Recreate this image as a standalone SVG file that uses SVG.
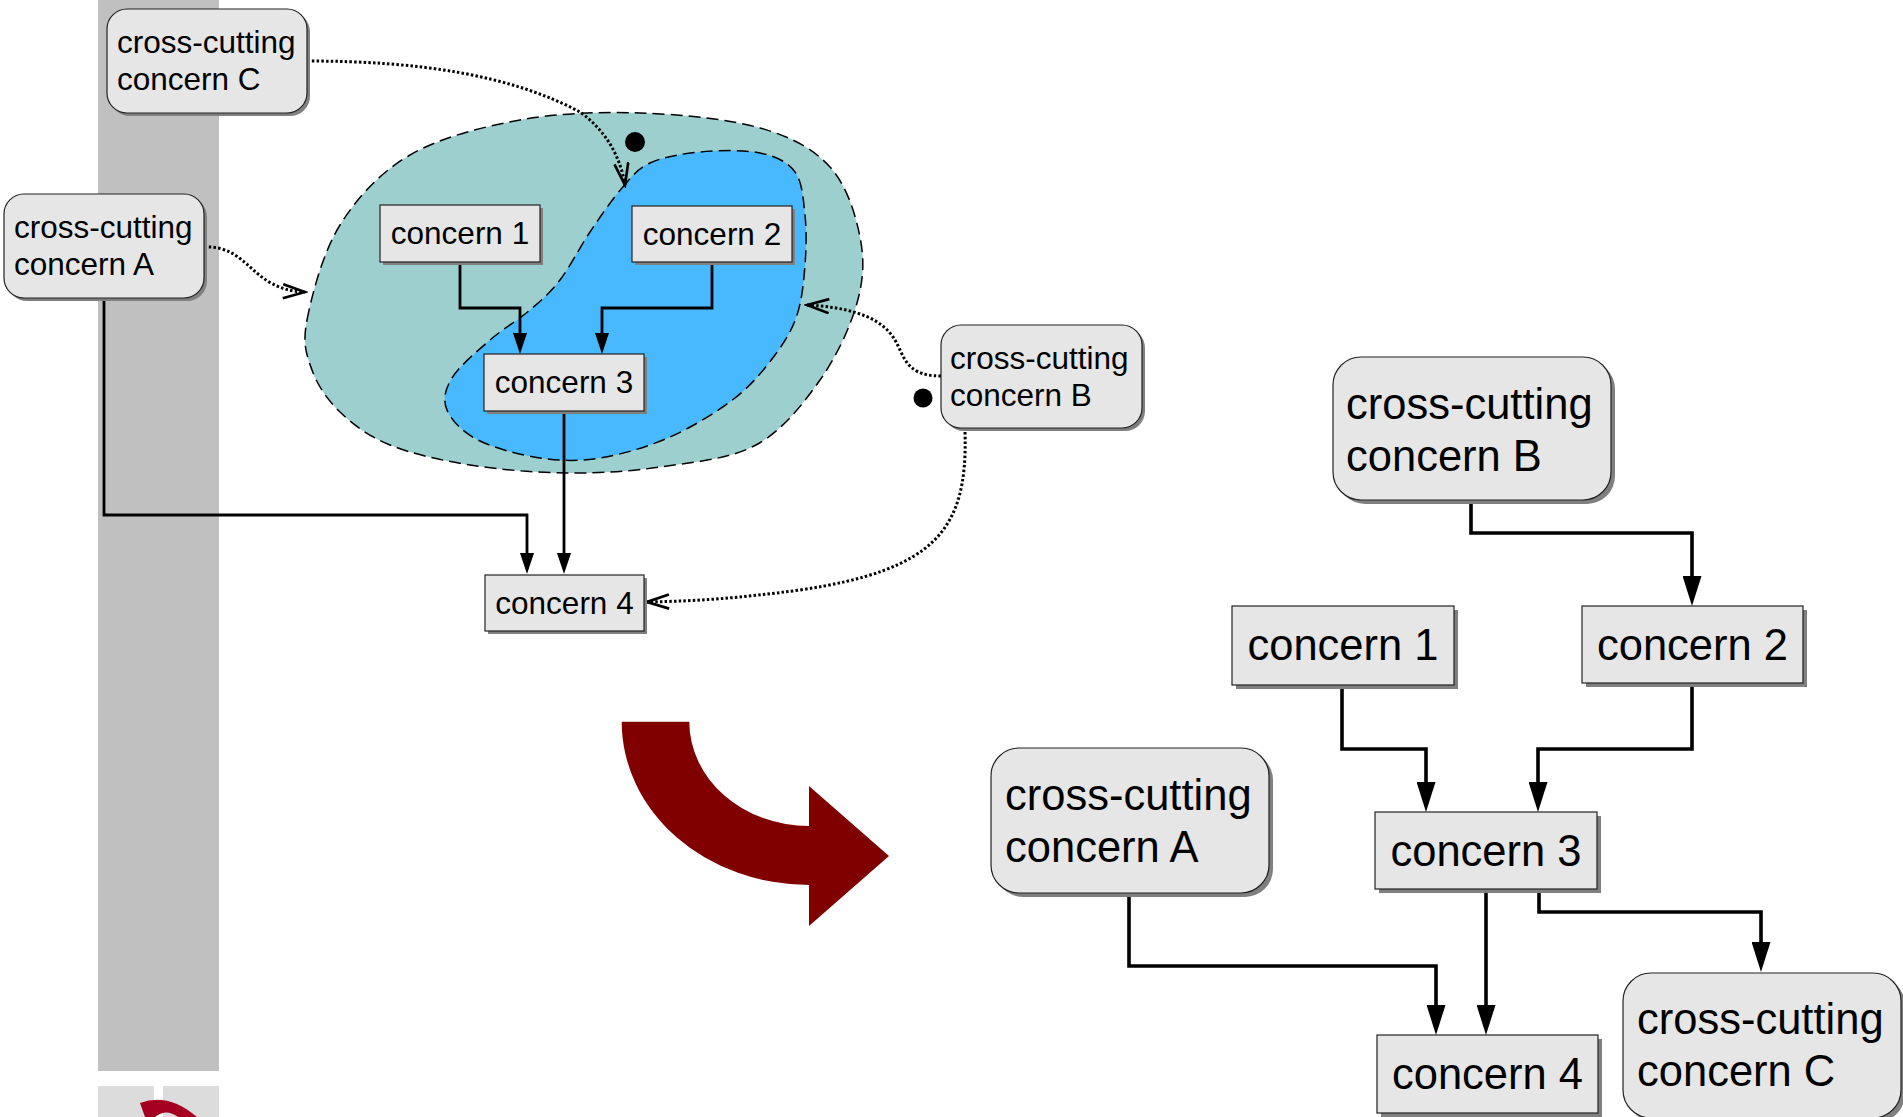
<svg xmlns="http://www.w3.org/2000/svg" width="1903" height="1117" viewBox="0 0 1903 1117">
<style>
.box{fill:#e6e6e6;stroke:#222;stroke-width:1.2}
.shadow{fill:#808080}
.t1{font-family:"Liberation Sans",Arial,sans-serif;font-size:31.5px;fill:#000}
.t2{font-family:"Liberation Sans",Arial,sans-serif;font-size:43.5px;fill:#000}
.mid{text-anchor:middle}
.ln1{fill:none;stroke:#000;stroke-width:2.8}
.ln2{fill:none;stroke:#000;stroke-width:3.6}
.dot{fill:none;stroke:#000;stroke-width:3;stroke-dasharray:2.5 2.2}
.blob{stroke:#000;stroke-width:1.5;stroke-dasharray:12 6}
</style>
<defs>
<marker id="arrS" markerWidth="21" markerHeight="14" refX="16" refY="7" orient="auto" markerUnits="userSpaceOnUse"><path d="M0,0 L21,7 L0,14 z" fill="#000"/></marker>
<marker id="arrL" markerWidth="30" markerHeight="19" refX="24" refY="9.5" orient="auto" markerUnits="userSpaceOnUse"><path d="M0,0 L30,9.5 L0,19 z" fill="#000"/></marker>
<marker id="open" markerWidth="26" markerHeight="18" refX="23" refY="8" orient="auto" markerUnits="userSpaceOnUse"><path d="M1,1 L23,8 L1,15" fill="none" stroke="#000" stroke-width="2.7" stroke-dasharray="none"/></marker>
</defs>

<g id="sidebar">
<rect x="98" y="0" width="121" height="1071" fill="#c0c0c0"/>
<rect x="98" y="1086" width="56" height="31" fill="#dcdcdc"/>
<rect x="163" y="1086" width="56" height="31" fill="#dcdcdc"/>
<path d="M140,1103 Q168,1092 197,1117 L178,1117 Q166,1108 155,1117 L145,1117 Z" fill="#a50021"/>
</g>

<g id="outer-blob">
<path class="blob" fill="#9ecfcf" d="M307,320 C311.7,295.8 322.8,252.5 340,225 C357.2,197.5 380,172.5 410,155 C440,137.5 481.7,127 520,120 C558.3,113 600,111.7 640,113 C680,114.3 728.3,119 760,128 C791.7,137 813.3,148.8 830,167 C846.7,185.2 855.5,214.3 860,237 C864.5,259.7 863.7,279.2 857,303 C850.3,326.8 836.8,356.3 820,380 C803.2,403.7 782.7,430.5 756,445 C729.3,459.5 691.5,462.3 660,467 C628.5,471.7 598.7,473.3 567,473 C535.3,472.7 499.5,469.7 470,465 C440.5,460.3 411.7,453.8 390,445 C368.3,436.2 353,424.5 340,412 C327,399.5 317.5,385.3 312,370 C306.5,354.7 302.3,344.2 307,320 Z"/>
</g>
<g id="inner-blob">
<path class="blob" fill="#48b8ff" d="M622,188 C632,176.5 637,169 650,163 C663,157 681.7,153.7 700,152 C718.3,150.3 744.2,149.7 760,153 C775.8,156.3 787.5,161.7 795,172 C802.5,182.3 803.3,199.5 805,215 C806.7,230.5 806.3,248.3 805,265 C803.7,281.7 802,300 797,315 C792,330 785.3,341.2 775,355 C764.7,368.8 752.5,384.3 735,398 C717.5,411.7 692.5,427 670,437 C647.5,447 621.7,454.5 600,458 C578.3,461.5 560.3,461 540,458 C519.7,455 493.5,448 478,440 C462.5,432 451.3,420.3 447,410 C442.7,399.7 444.8,389.7 452,378 C459.2,366.3 477,351.3 490,340 C503,328.7 518.3,320 530,310 C541.7,300 550,293 560,280 C570,267 579.7,247.3 590,232 C600.3,216.7 612,199.5 622,188 Z"/>
</g>

<g id="big-arrow">
<path d="M621.7,721.7 H689.3 A119.7,104.3 0 0 0 809,826 V786 L889,856 L809,926 V885 A187.3,163.3 0 0 1 621.7,721.7 Z" fill="#800000"/>
</g>

<g id="connectors">
<path class="ln1" d="M460,262 V308 H520 V349" marker-end="url(#arrS)"/>
<path class="ln1" d="M712,262 V308 H602 V349" marker-end="url(#arrS)"/>
<path class="ln1" d="M564,411 V569" marker-end="url(#arrS)"/>
<path class="ln1" d="M104,298 V515 H527 V569" marker-end="url(#arrS)"/>
<path class="dot" d="M307,61 C420,61 510,75 580,112 C605,130 620,155 625,185" marker-end="url(#open)"/>
<path class="dot" d="M204,247 C250,245 250,290 305,292" marker-end="url(#open)"/>
<path class="dot" d="M941,376 C900,376 905,350 890,333 C875,315 845,307 807,305" marker-end="url(#open)"/>
<path class="dot" d="M965,432 C968,530 935,570 800,590 C740,598 700,601 647,602" marker-end="url(#open)"/>
<circle cx="635" cy="142" r="10" fill="#000"/>
<circle cx="923" cy="398" r="9.5" fill="#000"/>
<path class="ln2" d="M1471,500 V533 H1692 V600" marker-end="url(#arrL)"/>
<path class="ln2" d="M1342,686 V749 H1426 V806" marker-end="url(#arrL)"/>
<path class="ln2" d="M1692,684 V749 H1538 V806" marker-end="url(#arrL)"/>
<path class="ln2" d="M1129,893 V966 H1436 V1029" marker-end="url(#arrL)"/>
<path class="ln2" d="M1486,889 V1029" marker-end="url(#arrL)"/>
<path class="ln2" d="M1539,889 V912 H1761 V966" marker-end="url(#arrL)"/>
</g>

<g id="l-ccC">
<rect class="shadow" x="110" y="12" width="200" height="104" rx="20"/>
<rect class="box" x="107" y="9" width="200" height="104" rx="20"/>
<text class="t1" x="117" y="53">cross-cutting</text>
<text class="t1" x="117" y="90">concern C</text>
</g>
<g id="l-ccA">
<rect class="shadow" x="7" y="197" width="200" height="104" rx="20"/>
<rect class="box" x="4" y="194" width="200" height="104" rx="20"/>
<text class="t1" x="14" y="238">cross-cutting</text>
<text class="t1" x="14" y="275">concern A</text>
</g>
<g id="l-ccB">
<rect class="shadow" x="944" y="328" width="201" height="103" rx="20"/>
<rect class="box" x="941" y="325" width="201" height="103" rx="20"/>
<text class="t1" x="950" y="369">cross-cutting</text>
<text class="t1" x="950" y="406">concern B</text>
</g>
<g id="l-c1">
<rect class="shadow" x="383" y="208" width="160" height="57"/>
<rect class="box" x="380" y="205" width="160" height="57"/>
<text class="t1 mid" x="460" y="244">concern 1</text>
</g>
<g id="l-c2">
<rect class="shadow" x="635" y="209" width="160" height="56"/>
<rect class="box" x="632" y="206" width="160" height="56"/>
<text class="t1 mid" x="712" y="245">concern 2</text>
</g>
<g id="l-c3">
<rect class="shadow" x="487" y="357" width="160" height="57"/>
<rect class="box" x="484" y="354" width="160" height="57"/>
<text class="t1 mid" x="564" y="393">concern 3</text>
</g>
<g id="l-c4">
<rect class="shadow" x="488" y="578" width="159" height="56"/>
<rect class="box" x="485" y="575" width="159" height="56"/>
<text class="t1 mid" x="564.5" y="614">concern 4</text>
</g>

<g id="r-ccB">
<rect class="shadow" x="1337" y="361" width="278" height="143" rx="28"/>
<rect class="box" x="1333" y="357" width="278" height="143" rx="28"/>
<text class="t2" x="1346" y="419">cross-cutting</text>
<text class="t2" x="1346" y="471">concern B</text>
</g>
<g id="r-ccA">
<rect class="shadow" x="995" y="752" width="278" height="145" rx="28"/>
<rect class="box" x="991" y="748" width="278" height="145" rx="28"/>
<text class="t2" x="1005" y="810">cross-cutting</text>
<text class="t2" x="1005" y="862">concern A</text>
</g>
<g id="r-ccC">
<rect class="shadow" x="1627" y="977" width="278" height="145" rx="28"/>
<rect class="box" x="1623" y="973" width="278" height="145" rx="28"/>
<text class="t2" x="1637" y="1034">cross-cutting</text>
<text class="t2" x="1637" y="1086">concern C</text>
</g>
<g id="r-c1">
<rect class="shadow" x="1236" y="610" width="222" height="79"/>
<rect class="box" x="1232" y="606" width="222" height="79"/>
<text class="t2 mid" x="1343" y="660">concern 1</text>
</g>
<g id="r-c2">
<rect class="shadow" x="1586" y="610" width="221" height="77"/>
<rect class="box" x="1582" y="606" width="221" height="77"/>
<text class="t2 mid" x="1692.5" y="660">concern 2</text>
</g>
<g id="r-c3">
<rect class="shadow" x="1379" y="816" width="222" height="77"/>
<rect class="box" x="1375" y="812" width="222" height="77"/>
<text class="t2 mid" x="1486" y="866">concern 3</text>
</g>
<g id="r-c4">
<rect class="shadow" x="1381" y="1039" width="221" height="78"/>
<rect class="box" x="1377" y="1035" width="221" height="78"/>
<text class="t2 mid" x="1487.5" y="1089">concern 4</text>
</g>
</svg>
